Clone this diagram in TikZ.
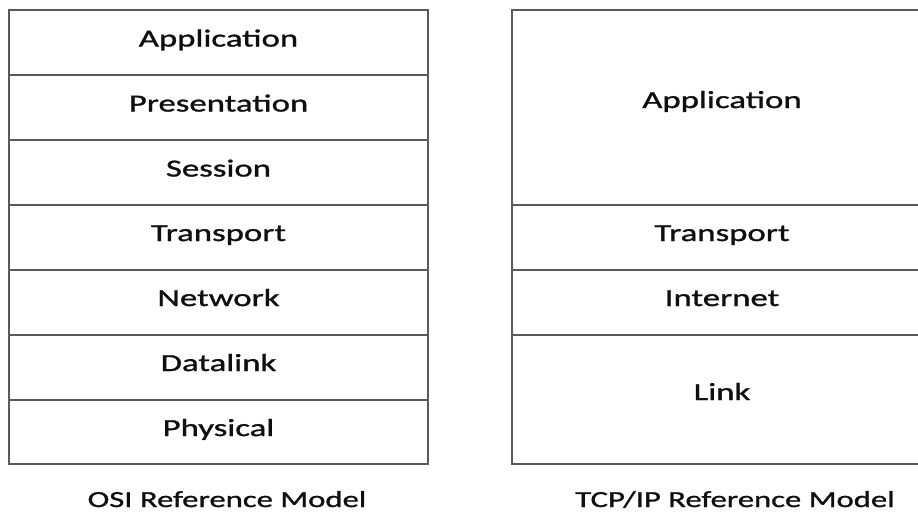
\documentclass[tikz,border=0pt]{standalone}
\usepackage{amsmath}
\usepackage{amssymb}
\usepackage{fontspec}
\setmainfont[FakeStretch=1.42,FakeBold=1.2]{Carlito}
\usepackage{tikz}

\tikzset{
  layerline/.style={color={rgb, 255:red, 90; green, 90; blue, 90 }, line width=1.8},
  layertext/.style={anchor=base, inner sep=0.75pt, align=left, text={rgb, 255:red, 15; green, 15; blue, 15 }, font=\fontsize{24.5}{29}\selectfont},
  captiontext/.style={layertext, font=\fontsize{23}{27}\selectfont, inner sep=0pt, text depth=0pt}
}

\begin{document}
\begin{tikzpicture}[x=1pt,y=1pt,yscale=-1,xscale=1]
\useasboundingbox (0,0) rectangle (918,514);
\clip (0,0) rectangle (918,514);

%Shape: Rectangle [id:osi]
\draw [layerline] (9,10) rectangle (428,464);
%Straight Lines [id:osi rows]
\draw [layerline] (9,75) -- (428,75) ;
\draw [layerline] (9,140) -- (428,140) ;
\draw [layerline] (9,205) -- (428,205) ;
\draw [layerline] (9,270) -- (428,270) ;
\draw [layerline] (9,335) -- (428,335) ;
\draw [layerline] (9,400) -- (428,400) ;

%Shape: Rectangle [id:tcpip]
\draw [layerline] (512,10) rectangle (932,464);
%Straight Lines [id:tcpip rows]
\draw [layerline] (512,205) -- (932,205) ;
\draw [layerline] (512,270) -- (932,270) ;
\draw [layerline] (512,335) -- (932,335) ;

% Text Node
\draw (218.5,46.5) node (osiapp) [layertext] {Application};
% Text Node
\draw (218.5,111.5) node (osipres) [layertext] {Presentation};
% Text Node
\draw (218.5,176.5) node (osisess) [layertext] {Session};
% Text Node
\draw (218.5,241) node (ositrans) [layertext] {Transport};
% Text Node
\draw (218.5,306) node (osinet) [layertext] {Network};
% Text Node
\draw (218.5,371) node (osidata) [layertext] {Datalink};
% Text Node
\draw (218.5,436) node (osiphys) [layertext] {Physical};

% Text Node
\draw (722,108) node (tcpapp) [layertext] {Application};
% Text Node
\draw (722,241) node (tcptrans) [layertext] {Transport};
% Text Node
\draw (722,306) node (tcpnet) [layertext] {Internet};
% Text Node
\draw (722,400) node (tcplink) [layertext] {Link};

% Text Node
\draw (227,507) node (osicap) [captiontext] {OSI Reference Model};
% Text Node
\draw (735,507) node (tcpcap) [captiontext] {TCP/IP Reference Model};

\end{tikzpicture}
\end{document}
